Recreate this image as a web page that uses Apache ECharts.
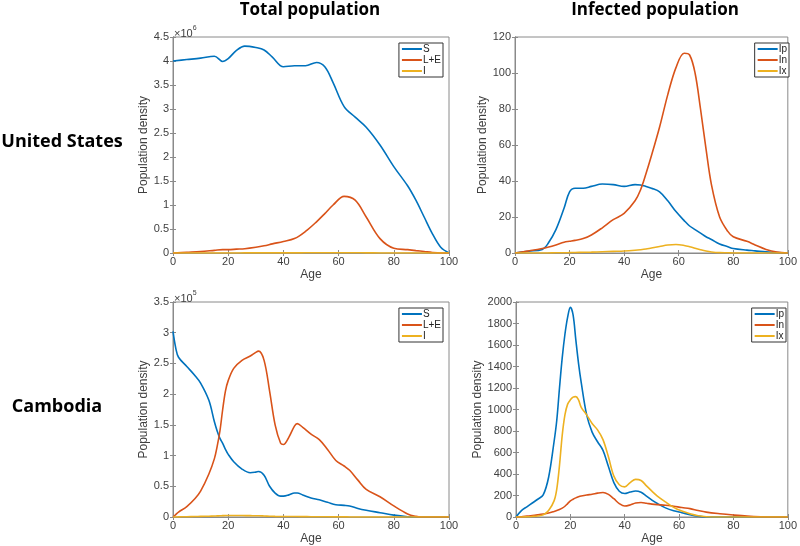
<!DOCTYPE html>
<html>
<head>
<meta charset="utf-8">
<script src="https://cdn.jsdelivr.net/npm/echarts@6/dist/echarts.min.js"></script>
<style>
html, body { margin: 0; padding: 0; background: #fff; }
#chart { width: 800px; height: 546px; }
</style>
</head>
<body>
<div id="chart"></div>
<script>
// United States, total population (x10^6)
var usTotAges = [0,5,10,15,18,20,23,26,30,33,36,40,44,48,52,55,58,62,66,70,75,80,85,88,91,94,97,100];
var usS  = [4.00,4.03,4.06,4.10,3.99,4.05,4.22,4.31,4.28,4.23,4.08,3.88,3.90,3.90,3.97,3.88,3.55,3.05,2.83,2.62,2.25,1.80,1.40,1.10,0.75,0.40,0.12,0.0];
var usLE = [0,0.015,0.03,0.055,0.07,0.07,0.08,0.09,0.12,0.15,0.19,0.24,0.30,0.45,0.65,0.82,1.00,1.18,1.10,0.75,0.30,0.10,0.07,0.05,0.03,0.01,0,0];
var usI  = [0,0,0,0.001,0.001,0.001,0.001,0.002,0.002,0.002,0.002,0.003,0.003,0.004,0.005,0.006,0.006,0.006,0.005,0.003,0.001,0,0,0,0,0,0,0];

// United States, infected population
var usInfAges = [0,5,10,12,15,18,20,22,25,28,32,36,40,44,46,48,50,53,56,59,62,64,66,68,70,72,75,78,80,85,88,92,96,100];
var usIp = [0,1,2,5,13,25,34,36,36,37,38.3,38,37,38,37.8,37,36,34,29,23,18,15,13,11,9,7.5,5,3.5,2.5,1.6,1.2,0.6,0.2,0];
var usIn = [0,1.2,2.5,3.2,4.5,6,6.5,7,8,10,14,18.5,22,29,35,44,54,70,88,103,111,110,100,80,58,38,20,12,9,6.5,4.5,2,0.5,0];
var usIx = [0,0,0,0,0.1,0.1,0.2,0.3,0.4,0.5,0.7,0.9,1.1,1.5,1.8,2.2,2.8,3.6,4.4,4.7,4.2,3.5,2.6,1.8,1.1,0.6,0.2,0.1,0,0,0,0,0,0];

// Cambodia, total population (x10^5)
var khTotAges = [0,1,2,5,8,10,13,15,16,17,18,19,20,22,25,28,30,31,33,35,37,39,40,42,44,45,47,50,53,56,59,62,64,67,70,75,80,85,88,90,95,100];
var khS  = [3.02,2.75,2.6,2.45,2.3,2.18,1.9,1.55,1.4,1.28,1.2,1.1,1.02,0.9,0.78,0.72,0.73,0.74,0.68,0.5,0.39,0.34,0.34,0.36,0.39,0.39,0.36,0.31,0.28,0.24,0.2,0.19,0.18,0.14,0.11,0.07,0.03,0.005,0,0,0,0];
var khLE = [0,0.04,0.08,0.17,0.3,0.42,0.7,0.95,1.15,1.4,1.75,2.05,2.22,2.42,2.55,2.62,2.68,2.7,2.55,2.05,1.5,1.2,1.18,1.3,1.48,1.52,1.46,1.35,1.26,1.1,0.92,0.83,0.76,0.6,0.45,0.33,0.18,0.05,0.01,0,0,0];
var khI  = [0,0,0.002,0.004,0.007,0.01,0.013,0.016,0.018,0.02,0.022,0.024,0.025,0.025,0.024,0.022,0.02,0.02,0.017,0.013,0.01,0.008,0.007,0.007,0.007,0.007,0.006,0.005,0.004,0.003,0.002,0.002,0.001,0.001,0,0,0,0,0,0,0,0];

// Cambodia, infected population
var khInfAges = [0,2,4,6,8,10,12,14,15,16,17,18,19,20,21,22,23,24,26,28,30,32,34,36,38,40,42,44,46,48,50,52,55,58,61,64,67,70,75,80,85,90,95,100];
var khIp = [0,60,95,130,165,205,370,700,900,1200,1480,1700,1860,1950,1880,1650,1430,1250,950,790,700,620,470,320,240,218,232,242,230,195,157,125,85,58,40,22,8,0,0,0,0,0,0,0];
var khIn = [0,3,8,13,20,28,38,52,60,70,82,100,125,150,165,178,188,195,205,212,222,228,210,170,125,102,112,130,135,128,120,115,110,100,88,78,60,45,30,18,8,2,0,0];
var khIx = [0,0,2,5,10,20,60,150,260,480,760,950,1050,1090,1115,1120,1090,1020,950,870,810,720,560,380,300,280,320,350,340,290,240,195,140,90,55,30,12,3,0,0,0,0,0,0];

var colBlue = '#0072BD', colRed = '#D95319', colYel = '#EDB120';
var axisCol = '#8a8a8a', textCol = '#404040';
var font = 'Liberation Sans';

function pairs(xs, ys){
	return xs.map(function(x, i){ return [x, ys[i]]; });
}

var myChart = echarts.init(document.getElementById('chart'));

// 四个子图的位置
var grids = [
	{left: 173, top: 37, width: 276, height: 216},
	{left: 515, top: 37, width: 276, height: 216},
	{left: 173, top: 302, width: 276, height: 217},
	{left: 516, top: 302, width: 276, height: 217}
];
var yConf = [
	{max: 4.5, interval: 0.5, gap: 20},
	{max: 120, interval: 20, gap: 22},
	{max: 3.5, interval: 0.5, gap: 20},
	{max: 2000, interval: 200, gap: 27}
];

var option = {
	animation: false,
	textStyle: {fontFamily: font},
	grid: [],
	xAxis: [],
	yAxis: [],
	series: [],
	legend: [],
	graphic: []
};

grids.forEach(function(g, i){
	option.grid.push({left: g.left, top: g.top, width: g.width, height: g.height,
		show: true, borderColor: axisCol, borderWidth: 1, containLabel: false});
	// 下方x轴（带标签）
	option.xAxis.push({
		type: 'value', gridIndex: i, min: 0, max: 100, interval: 20,
		name: 'Age', nameLocation: 'middle', nameGap: 16,
		nameTextStyle: {color: textCol, fontSize: 12, fontFamily: font},
		axisLine: {show: true, lineStyle: {color: axisCol}},
		axisTick: {show: true, inside: true, length: 3, lineStyle: {color: axisCol}},
		axisLabel: {color: textCol, fontSize: 11, margin: 3, fontFamily: font},
		splitLine: {show: false}
	});
	// 上方x轴（只有刻度）
	option.xAxis.push({
		type: 'value', gridIndex: i, position: 'top', min: 0, max: 100, interval: 20,
		axisLine: {show: true, lineStyle: {color: axisCol}},
		axisTick: {show: true, inside: true, length: 3, lineStyle: {color: axisCol}},
		axisLabel: {show: false}, splitLine: {show: false}
	});
	option.yAxis.push({
		type: 'value', gridIndex: i, min: 0, max: yConf[i].max, interval: yConf[i].interval,
		name: 'Population density', nameLocation: 'middle', nameGap: yConf[i].gap,
		nameTextStyle: {color: textCol, fontSize: 12, fontFamily: font},
		axisLine: {show: true, lineStyle: {color: axisCol}},
		axisTick: {show: true, inside: true, length: 3, lineStyle: {color: axisCol}},
		axisLabel: {color: textCol, fontSize: 11, margin: 4, fontFamily: font,
			formatter: function(v){ return String(v); }},
		splitLine: {show: false}
	});
	option.yAxis.push({
		type: 'value', gridIndex: i, position: 'right', min: 0, max: yConf[i].max, interval: yConf[i].interval,
		axisLine: {show: true, lineStyle: {color: axisCol}},
		axisTick: {show: true, inside: true, length: 3, lineStyle: {color: axisCol}},
		axisLabel: {show: false}, splitLine: {show: false}
	});
});

function addLine(gi, name, xs, ys, color){
	option.series.push({
		name: name, type: 'line', xAxisIndex: gi * 2, yAxisIndex: gi * 2,
		data: pairs(xs, ys), smooth: 0.35, symbol: 'none',
		lineStyle: {color: color, width: 1.6}, itemStyle: {color: color}
	});
}
addLine(0, 'S', usTotAges, usS, colBlue);
addLine(0, 'L+E', usTotAges, usLE, colRed);
addLine(0, 'I', usTotAges, usI, colYel);
addLine(1, 'Ip', usInfAges, usIp, colBlue);
addLine(1, 'In', usInfAges, usIn, colRed);
addLine(1, 'Ix', usInfAges, usIx, colYel);
addLine(2, 'S', khTotAges, khS, colBlue);
addLine(2, 'L+E', khTotAges, khLE, colRed);
addLine(2, 'I', khTotAges, khI, colYel);
addLine(3, 'Ip', khInfAges, khIp, colBlue);
addLine(3, 'In', khInfAges, khIn, colRed);
addLine(3, 'Ix', khInfAges, khIx, colYel);

// 图例
var legendPos = [
	{right: 357, top: 43, data: ['S', 'L+E', 'I']},
	{right: 11, top: 43, data: ['Ip', 'In', 'Ix']},
	{right: 357, top: 308, data: ['S', 'L+E', 'I']},
	{right: 14, top: 308, data: ['Ip', 'In', 'Ix']}
];
legendPos.forEach(function(l){
	option.legend.push({
		right: l.right, top: l.top, orient: 'vertical', data: l.data,
		icon: 'rect', itemWidth: 20, itemHeight: 2, itemGap: 1,
		padding: [1, 2, 1, 3], borderColor: '#333', borderWidth: 1,
		backgroundColor: '#fff', selectedMode: false,
		textStyle: {fontSize: 10, color: '#222', padding: [0, 0, 0, -4], fontFamily: font}
	});
});

// 标题与行标签
var bold = {fontFamily: 'Open Sans', fontWeight: 'bold', fontSize: 17, fill: '#000'};
function label(text, x, y, size){
	option.graphic.push({type: 'text', x: x, y: y,
		style: Object.assign({text: text, align: 'center', verticalAlign: 'middle'}, bold, {fontSize: size})});
}
label('Total population', 310, 10, 17);
label('Infected population', 655, 10, 17);
label('United States', 62, 142, 18);
label('Cambodia', 57, 407, 18);

// 坐标轴倍数
function mult(exp, x, y){
	option.graphic.push({type: 'text', x: x, y: y,
		style: {text: '{a|\u00d710}{b|' + exp + '}', rich: {
			a: {fontSize: 11, fill: textCol, fontFamily: font, lineHeight: 14, verticalAlign: 'bottom'},
			b: {fontSize: 7, fill: textCol, fontFamily: font, lineHeight: 14, verticalAlign: 'top'}
		}}});
}
mult('6', 174, 25);
mult('5', 174, 290);

myChart.setOption(option);
</script>
</body>
</html>
